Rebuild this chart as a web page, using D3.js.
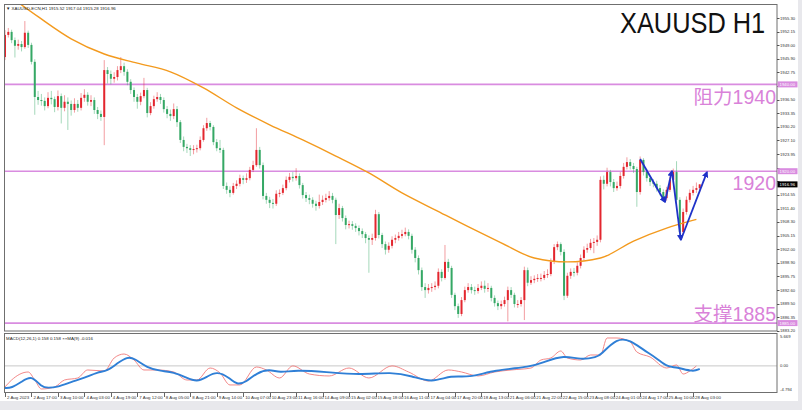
<!DOCTYPE html>
<html><head><meta charset="utf-8">
<script src="https://cdn.jsdelivr.net/npm/d3@7"></script>
<style>html,body{margin:0;padding:0;background:#fff;}svg{display:block;}</style>
</head><body><svg id="c" width="802" height="410"></svg>
<script>
// ---------------- data ----------------
const symbolTitle = "XAUUSD H1";
const headerText = "\u25BC XAUUSD-ECN,H1  1915.52 1917.04 1915.28 1916.96";
const macdHeader = "MACD(12,26,1) 0.158 0.158 \u00D7\u00D7MA(9) -0.016";
const lastPrice = 1916.96;
const openFirst = 1946.3;
const closes = [
1951.4,1952.1,1950.2,1948.9,1949.3,1948.6,1951.9,1949.1,1945.2,1937.1,
1936.4,1936.2,1935.0,1936.9,1936.6,1934.8,1937.3,1934.6,1936.0,1935.5,
1934.1,1935.5,1934.6,1936.9,1937.6,1936.0,1936.4,1934.1,1933.2,1932.5,
1943.3,1942.4,1941.3,1941.7,1943.3,1944.2,1942.9,1940.6,1938.7,1937.1,
1936.0,1937.3,1938.7,1933.4,1935.0,1936.6,1937.1,1936.4,1934.3,1933.2,
1932.7,1934.3,1931.3,1927.2,1925.6,1925.3,1924.9,1925.1,1925.3,1927.2,
1929.9,1931.1,1930.2,1926.7,1925.3,1924.9,1916.6,1915.7,1915.0,1916.6,
1917.1,1918.4,1918.0,1918.4,1920.3,1921.4,1924.9,1921.4,1914.3,1913.4,
1912.7,1912.5,1914.8,1915.0,1916.1,1918.0,1918.7,1918.4,1918.9,1916.8,
1914.5,1913.8,1913.4,1912.5,1912.0,1912.9,1913.4,1913.8,1914.3,1913.4,
1909.9,1911.5,1909.2,1907.6,1907.8,1907.4,1906.9,1906.2,1905.5,1904.6,
1904.2,1904.6,1910.1,1905.3,1903.2,1901.9,1902.8,1904.2,1904.6,1905.1,
1905.5,1906.0,1905.1,1901.9,1900.0,1897.2,1893.3,1892.6,1893.1,1893.3,
1893.6,1896.8,1895.4,1899.1,1897.7,1891.5,1888.9,1887.1,1890.3,1892.6,
1893.3,1892.6,1892.4,1893.1,1893.6,1892.9,1893.1,1890.8,1889.6,1888.9,
1889.4,1890.3,1892.6,1891.5,1889.4,1889.4,1890.3,1897.2,1894.3,1894.9,
1895.2,1895.4,1895.4,1896.1,1896.3,1899.1,1902.5,1903.2,1901.4,1891.3,
1895.9,1896.8,1896.6,1898.2,1900.0,1901.9,1902.3,1903.5,1903.7,1904.2,
1918.0,1917.1,1919.8,1917.5,1916.1,1916.6,1918.9,1921.0,1922.1,1921.2,
1920.5,1915.2,1922.6,1919.8,1918.4,1917.5,1917.1,1916.1,1915.2,1913.8,
1915.7,1918.0,1919.8,1913.4,1906.0,1910.6,1913.4,1915.0,1915.7,1916.1,
1916.96];
const highs = [
1952.5,1953.0,1952.6,1950.8,1950.3,1950.0,1954.6,1952.4,1949.6,1945.8,
1938.5,1937.8,1937.0,1938.2,1938.5,1937.2,1938.6,1937.9,1937.5,1937.0,
1936.3,1936.8,1936.4,1938.0,1938.9,1938.2,1937.5,1937.0,1934.8,1934.0,
1945.6,1944.0,1943.2,1942.8,1944.2,1946.3,1945.0,1943.5,1941.2,1939.3,
1937.8,1938.1,1941.5,1939.2,1935.9,1937.4,1938.2,1937.8,1937.0,1935.0,
1934.2,1935.6,1935.0,1931.8,1928.0,1926.3,1926.0,1926.0,1926.1,1928.0,
1930.6,1932.3,1931.6,1930.6,1927.4,1927.2,1925.4,1917.4,1916.5,1917.3,
1917.9,1919.2,1919.0,1919.5,1921.0,1922.4,1929.9,1925.6,1922.0,1915.0,
1914.1,1913.6,1915.6,1915.8,1916.9,1918.8,1919.6,1919.8,1920.7,1919.5,
1917.3,1915.2,1914.6,1914.0,1913.2,1914.6,1914.4,1914.8,1915.4,1915.0,
1913.9,1912.5,1912.0,1909.8,1908.6,1908.5,1908.0,1907.5,1906.8,1906.0,
1905.2,1905.6,1911.1,1910.6,1905.8,1903.8,1903.6,1905.0,1905.4,1906.0,
1906.5,1907.0,1906.6,1905.6,1902.5,1900.6,1897.8,1894.2,1894.0,1894.2,
1894.6,1897.6,1897.4,1903.0,1899.8,1898.2,1892.0,1889.5,1891.0,1893.4,
1894.2,1894.0,1893.4,1894.0,1894.6,1894.8,1894.2,1893.6,1891.4,1890.2,
1890.2,1891.1,1893.4,1893.3,1892.0,1890.3,1891.0,1898.0,1897.8,1895.8,
1896.0,1896.3,1896.4,1897.0,1897.4,1899.9,1903.2,1903.8,1903.6,1902.0,
1896.6,1897.6,1897.7,1899.0,1900.8,1902.7,1903.3,1904.4,1904.6,1905.2,
1918.8,1919.0,1920.8,1920.3,1918.2,1917.6,1919.8,1921.9,1923.2,1922.8,
1921.9,1921.0,1923.4,1923.0,1920.4,1919.0,1918.2,1917.8,1916.8,1915.8,
1916.4,1918.8,1920.6,1922.3,1914.0,1911.4,1914.2,1915.8,1916.6,1917.4,
1917.04];
const lows = [
1945.6,1950.8,1949.5,1946.2,1948.0,1947.6,1948.2,1948.4,1944.6,1933.0,
1935.3,1935.1,1934.0,1934.5,1935.4,1933.6,1934.0,1931.0,1933.8,1929.5,
1932.8,1933.5,1933.7,1934.0,1936.0,1935.1,1935.0,1933.2,1932.0,1931.6,
1926.0,1940.2,1940.0,1940.4,1940.9,1942.6,1942.0,1939.8,1937.8,1936.0,
1934.4,1935.2,1936.8,1932.4,1932.9,1934.4,1936.0,1935.5,1933.5,1932.2,
1931.6,1932.0,1930.2,1926.5,1924.6,1924.2,1923.5,1923.9,1924.3,1924.8,
1926.8,1929.3,1929.4,1926.0,1924.6,1924.2,1915.9,1914.8,1914.0,1914.6,
1915.9,1916.5,1917.0,1917.3,1917.9,1919.8,1921.0,1920.6,1913.5,1912.5,
1911.5,1911.4,1912.0,1914.0,1914.5,1915.6,1917.4,1917.6,1917.8,1916.0,
1913.7,1912.9,1912.4,1911.6,1910.9,1911.4,1912.2,1912.8,1913.2,1912.6,
1903.2,1909.0,1908.4,1906.6,1906.8,1906.5,1906.0,1905.2,1904.6,1903.4,
1896.6,1903.0,1904.0,1904.5,1902.3,1900.8,1901.2,1902.2,1903.4,1904.0,
1904.5,1905.0,1904.3,1901.0,1899.0,1896.2,1892.4,1890.8,1891.8,1892.2,
1892.6,1893.0,1894.6,1895.0,1896.8,1890.8,1888.0,1886.2,1886.6,1889.8,
1892.0,1891.8,1891.5,1891.8,1892.6,1892.0,1892.2,1890.0,1888.8,1888.0,
1888.2,1888.8,1885.4,1890.8,1888.6,1888.5,1888.8,1885.7,1893.5,1893.8,
1894.2,1894.5,1894.6,1894.9,1895.4,1895.8,1898.6,1901.8,1900.6,1890.3,
1890.8,1895.2,1895.7,1896.0,1897.6,1899.4,1901.2,1901.8,1901.1,1902.8,
1903.6,1915.8,1916.5,1916.5,1915.2,1915.5,1916.0,1918.3,1920.4,1920.4,
1919.6,1911.8,1914.6,1919.0,1917.6,1916.6,1916.3,1915.3,1914.4,1913.0,
1913.2,1915.2,1917.4,1912.6,1905.0,1905.5,1910.0,1912.8,1914.4,1915.0,
1915.28];
// moving average (orange), read at candle indices
const maIdx  = [0,10,20,30,40,50,60,70,80,90,100,110,120,130,140,150,160,170,180,190,200,209];
const maVals = [1961.1,1955.6,1950.5,1947.0,1944.9,1942.9,1939.2,1934.6,1930.7,1927.2,1923.5,1919.6,1915.0,1911.1,1907.2,1903.5,1900.0,1899.1,1900.0,1903.9,1906.9,1908.9];
// MACD panel
const macdIdx  = [0,2,7,9,11,15,18,22,25,30,33,36,39,42,46,51,55,58,62,65,68,71,76,79,83,87,92,98,104,110,117,122,128,134,138,143,148,153,159,162,165,168,170,174,177,180,182,185,189,191,195,200,203,205,207,209];
const macdVals = [-3.87,-2.59,-1.12,-2.59,-4.24,-3.87,-2.59,-2.22,-0.75,-0.94,1.45,2.18,1.08,-0.75,-0.75,-1.12,-2.59,-2.59,-0.39,-1.30,-3.50,-3.50,-0.20,-0.75,-2.22,0,-1.49,-1.85,-0.39,-2.22,0,-1.12,-2.77,-0.75,-1.12,-1.85,-1.12,-0.75,-0.39,1.08,1.45,2.73,1.45,1.08,2.0,2.0,5.12,5.12,4.39,2.55,1.63,-0.39,0.17,-1.49,-0.94,-0.02];
const signalIdx  = [0,2,5,8,11,13,16,20,24,28,31,34,37,39,43,47,51,55,58,61,64,68,70,73,76,80,83,88,97,107,117,123,129,135,140,148,159,163,169,174,179,180,185,189,193,197,200,203,208,210];
const signalVals = [-4.06,-4.06,-2.95,-1.67,-3.87,-4.06,-3.87,-2.95,-2.22,-1.12,-0.94,0.53,1.63,1.45,-0.39,-0.94,-1.12,-2.22,-2.95,-2.04,-0.94,-2.22,-3.50,-2.95,-1.30,-0.57,-1.30,-0.75,-1.12,-1.67,-1.12,-1.85,-3.14,-1.67,-2.22,-0.75,-0.20,0.72,2.0,1.08,1.63,2.0,5.12,4.75,2.92,1.45,-0.20,-0.20,-1.12,-0.57];
const macdTicks = [5.669, 0, -4.794];
const macdTickLabels = ["5.669","0.00","-4.794"];
// axes
const priceTicks = [1955.30,1952.15,1949.00,1945.90,1942.75,1939.60,1936.50,1933.35,1930.20,1927.10,1923.95,1920.80,1917.70,1914.55,1911.40,1908.30,1905.15,1902.00,1898.90,1895.75,1892.60,1889.50,1886.35,1883.20];
const timeLabels = ["2 Aug 2023","2 Aug 17:00","3 Aug 10:00","4 Aug 03:00","4 Aug 19:00","7 Aug 12:00","8 Aug 05:00","8 Aug 21:00","9 Aug 14:00","10 Aug 07:00","10 Aug 23:00","11 Aug 16:00","14 Aug 09:00","15 Aug 02:00","15 Aug 18:00","16 Aug 11:00","17 Aug 04:00","17 Aug 20:00","18 Aug 13:00","21 Aug 06:00","21 Aug 22:00","22 Aug 15:00","23 Aug 08:00","24 Aug 01:00","24 Aug 17:00","25 Aug 10:00","28 Aug 03:00"];
const timeLabelIdx = [0,8,16,24,32,40,48,56,64,72,80,88,96,104,112,120,128,136,144,152,160,168,176,184,192,200,208];
// horizontal levels + annotations
const levels = [1940, 1920, 1885];
const levelTexts = ["\u963B\u529B1940", "1920", "\u652F\u64911885"];
const arrowIdx = [192, 199.5, 201.6, 204.3, 212.2];
const arrowPrice = [1922.8, 1912.9, 1920.05, 1904.15, 1919.8];

// ---------------- drawing ----------------
const svg = d3.select("#c");
const RED = "#e3262e", GREEN = "#35a865", PINK = "#d98ce0", PINKTXT = "#d982d9";
const x = d3.scaleLinear().domain([0, 210]).range([5, 699.7]);
const y = d3.scaleLinear().domain([1955.3, 1883.2]).range([18, 330.9]);
const ym = d3.scaleLinear().domain([-4.794, 5.669]).range([392, 335]);
const FONT = "'Liberation Sans', Arial, 'Noto Sans CJK SC', sans-serif";

svg.append("rect").attr("width", 802).attr("height", 410).attr("fill", "#fff");
svg.append("rect").attr("x", 0).attr("y", 401).attr("width", 802).attr("height", 9).attr("fill", "#e8e8ec");
svg.append("rect").attr("x", 798).attr("y", 0).attr("width", 4).attr("height", 410).attr("fill", "#e8e8ec");

const defs = svg.append("defs");
defs.append("clipPath").attr("id", "cm").append("rect").attr("x", 5).attr("y", 5).attr("width", 772).attr("height", 326);
defs.append("clipPath").attr("id", "cd").append("rect").attr("x", 5).attr("y", 334).attr("width", 772).attr("height", 58);
defs.append("marker").attr("id", "ah").attr("viewBox", "0 0 10 10").attr("refX", 8).attr("refY", 5)
  .attr("markerWidth", 3.6).attr("markerHeight", 3.6).attr("orient", "auto")
  .append("path").attr("d", "M0,0 L10,5 L0,10 Z").attr("fill", "#1f32c8");

const main = svg.append("g").attr("clip-path", "url(#cm)");

// level lines
main.selectAll("line.lvl").data(levels).join("line").attr("class", "lvl")
  .attr("x1", 4).attr("x2", 777).attr("y1", d => y(d)).attr("y2", d => y(d))
  .attr("stroke", PINK).attr("stroke-width", 1.6);

// candles
const candles = closes.map((c, i) => {
  const o = i === 0 ? openFirst : closes[i - 1];
  return {i, o, c, h: Math.max(highs[i], o, c), l: Math.min(lows[i], o, c)};
});
const cg = main.append("g");
cg.selectAll("line.wick").data(candles).join("line").attr("class", "wick")
  .attr("x1", d => x(d.i)).attr("x2", d => x(d.i))
  .attr("y1", d => y(d.h)).attr("y2", d => y(d.l))
  .attr("stroke", d => d.c >= d.o ? RED : GREEN).attr("stroke-opacity", 0.45).attr("stroke-width", 1);
cg.selectAll("rect.body").data(candles).join("rect").attr("class", "body")
  .attr("x", d => x(d.i) - 1).attr("width", 2)
  .attr("y", d => y(Math.max(d.o, d.c)))
  .attr("height", d => Math.max(1, Math.abs(y(d.o) - y(d.c))))
  .attr("fill", d => d.c >= d.o ? RED : GREEN);

// moving average
const maData = maIdx.map((k, i) => [k, maVals[i]]);
main.append("path").datum(maData)
  .attr("d", d3.line().x(d => x(d[0])).y(d => y(d[1])).curve(d3.curveMonotoneX))
  .attr("fill", "none").attr("stroke", "#f39a1e").attr("stroke-width", 1.4);

// blue zigzag arrows
const arrowPts = arrowIdx.map((k, i) => [x(k), y(arrowPrice[i])]);
for (let i = 0; i < arrowPts.length - 1; i++) {
  main.append("line").attr("x1", arrowPts[i][0]).attr("y1", arrowPts[i][1])
    .attr("x2", arrowPts[i + 1][0]).attr("y2", arrowPts[i + 1][1])
    .attr("stroke", "#1f32c8").attr("stroke-width", 1.8).attr("marker-end", "url(#ah)");
}

// level texts
const lvlOffsets = [20, 18.5, -2];
svg.selectAll("text.lvlt").data(levels).join("text").attr("class", "lvlt")
  .attr("x", 776).attr("y", (d, i) => y(d) + lvlOffsets[i]).attr("text-anchor", "end")
  .attr("font-family", FONT).attr("font-size", 19.5).attr("fill", PINKTXT)
  .text((d, i) => levelTexts[i]);

// title (horizontally condensed like the reference)
svg.append("text").attr("transform", "translate(620,33) scale(0.875,1)")
  .attr("font-family", FONT).attr("font-size", 29).attr("fill", "#111").text(symbolTitle);
svg.append("text").attr("x", 6).attr("y", 10).attr("font-family", FONT).attr("font-size", 4.4)
  .attr("fill", "#222").text(headerText);

// MACD panel
const md = svg.append("g").attr("clip-path", "url(#cd)");
md.append("line").attr("x1", 4).attr("x2", 777).attr("y1", ym(0)).attr("y2", ym(0))
  .attr("stroke", "#c8c8c8").attr("stroke-width", 1);
md.append("path").datum(macdIdx.map((k, i) => [k, macdVals[i]]))
  .attr("d", d3.line().x(d => x(d[0])).y(d => ym(d[1])).curve(d3.curveMonotoneX))
  .attr("fill", "none").attr("stroke", "#f07a7a").attr("stroke-width", 0.9);
md.append("path").datum(signalIdx.map((k, i) => [k, signalVals[i]]))
  .attr("d", d3.line().x(d => x(d[0])).y(d => ym(d[1])).curve(d3.curveBasis))
  .attr("fill", "none").attr("stroke", "#2f7fd6").attr("stroke-width", 1.9);
svg.append("text").attr("x", 6).attr("y", 339.5).attr("font-family", FONT).attr("font-size", 4.4)
  .attr("fill", "#222").text(macdHeader);

// frames
svg.append("rect").attr("x", 4.5).attr("y", 4.5).attr("width", 772.5).attr("height", 326.5)
  .attr("fill", "none").attr("stroke", "#6f6f6f").attr("stroke-width", 1);
svg.append("rect").attr("x", 4.5).attr("y", 333.5).attr("width", 772.5).attr("height", 59)
  .attr("fill", "none").attr("stroke", "#6f6f6f").attr("stroke-width", 1);

// price axis (right); labels hidden behind level tags in the reference are skipped
const hidden = v => levels.concat([lastPrice]).some(l => Math.abs(y(l) - y(v)) < 4.5);
const pa = svg.append("g");
pa.selectAll("line").data(priceTicks).join("line")
  .attr("x1", 777).attr("x2", 779.5).attr("y1", d => Math.round(y(d)) + 0.5).attr("y2", d => Math.round(y(d)) + 0.5)
  .attr("stroke", "#555");
pa.selectAll("text").data(priceTicks.filter(v => !hidden(v))).join("text")
  .attr("x", 780).attr("y", d => y(d) + 1.5).attr("font-family", FONT).attr("font-size", 4.2)
  .attr("fill", "#333").text(d => d.toFixed(2));
// highlighted level tags
const tag = (v, txt, bg) => {
  svg.append("rect").attr("x", 777.5).attr("y", y(v) - 3).attr("width", 20).attr("height", 6).attr("fill", bg);
  svg.append("text").attr("x", 779.5).attr("y", y(v) + 1.6).attr("font-family", FONT).attr("font-size", 4.3)
    .attr("fill", "#fff").text(txt);
};
levels.forEach(v => tag(v, v.toFixed(2), PINK));
tag(lastPrice, lastPrice.toFixed(2), "#000");

// MACD axis labels
svg.selectAll("text.mt").data(macdTicks).join("text").attr("class", "mt")
  .attr("x", 780).attr("y", (d, i) => [337.5, ym(0) + 1.5, 391][i])
  .attr("font-family", FONT).attr("font-size", 4.2).attr("fill", "#333")
  .text((d, i) => macdTickLabels[i]);

// time axis
const ta = svg.append("g");
ta.selectAll("line").data(timeLabelIdx).join("line")
  .attr("x1", d => Math.round(x(d)) + 0.5).attr("x2", d => Math.round(x(d)) + 0.5)
  .attr("y1", 393).attr("y2", 397).attr("stroke", "#666");
ta.selectAll("text").data(timeLabelIdx).join("text")
  .attr("x", d => x(d) + 2).attr("y", 398.5).attr("font-family", FONT).attr("font-size", 4.4)
  .attr("fill", "#333").text((d, i) => timeLabels[i]);
</script></body></html>
